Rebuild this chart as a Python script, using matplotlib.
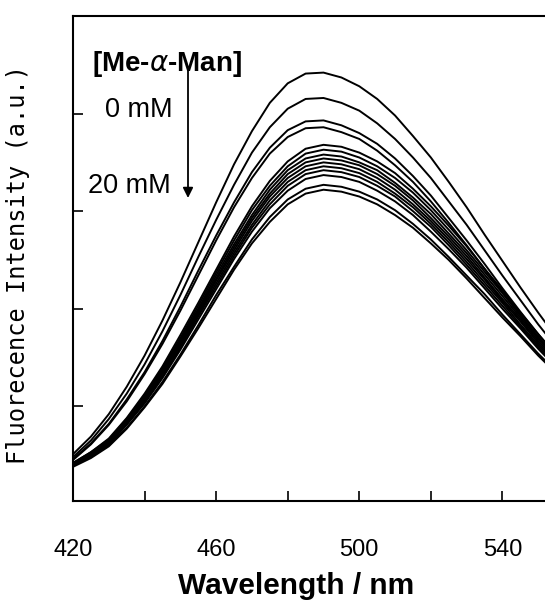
import matplotlib
matplotlib.use("Agg")
import matplotlib.pyplot as plt

# emission spectra, Me-alpha-Man titration (0 mM on top -> 20 mM at the bottom)
wl = [420, 425, 430, 435, 440, 445, 450, 455, 460, 465, 470, 475, 480, 485,
      490, 495, 500, 505, 510, 515, 520, 525, 530, 535, 540, 545, 550, 555]

s1 = [0.51, 0.69, 0.92, 1.20, 1.52, 1.88, 2.27, 2.68, 3.09, 3.48, 3.82, 4.11, 4.31, 4.41,
      4.42, 4.37, 4.28, 4.15, 3.98, 3.77, 3.55, 3.30, 3.04, 2.76, 2.49, 2.22, 1.96, 1.71]
s2 = [0.48, 0.65, 0.87, 1.13, 1.43, 1.77, 2.14, 2.53, 2.91, 3.27, 3.60, 3.86, 4.05, 4.15,
      4.16, 4.11, 4.03, 3.90, 3.74, 3.55, 3.34, 3.10, 2.86, 2.60, 2.34, 2.09, 1.84, 1.61]
s3 = [0.46, 0.62, 0.82, 1.07, 1.35, 1.67, 2.02, 2.39, 2.75, 3.09, 3.40, 3.65, 3.83, 3.92,
      3.93, 3.88, 3.80, 3.69, 3.54, 3.36, 3.16, 2.93, 2.70, 2.46, 2.21, 1.97, 1.74, 1.52]
s4 = [0.45, 0.61, 0.81, 1.05, 1.33, 1.64, 1.98, 2.34, 2.70, 3.04, 3.34, 3.59, 3.76, 3.85,
      3.86, 3.81, 3.74, 3.62, 3.47, 3.30, 3.10, 2.88, 2.65, 2.41, 2.17, 1.94, 1.71, 1.49]
s5 = [0.42, 0.53, 0.67, 0.88, 1.13, 1.41, 1.73, 2.06, 2.40, 2.74, 3.05, 3.31, 3.51, 3.64,
      3.68, 3.66, 3.60, 3.51, 3.39, 3.23, 3.05, 2.85, 2.64, 2.41, 2.19, 1.96, 1.74, 1.53]
s6 = [0.42, 0.53, 0.66, 0.87, 1.11, 1.39, 1.70, 2.03, 2.37, 2.70, 3.01, 3.26, 3.46, 3.59,
      3.63, 3.61, 3.55, 3.46, 3.34, 3.19, 3.01, 2.81, 2.60, 2.38, 2.16, 1.93, 1.71, 1.51]
s7 = [0.41, 0.52, 0.65, 0.86, 1.10, 1.37, 1.68, 2.00, 2.34, 2.66, 2.96, 3.22, 3.42, 3.54,
      3.58, 3.56, 3.50, 3.42, 3.29, 3.14, 2.97, 2.77, 2.57, 2.35, 2.13, 1.91, 1.69, 1.49]
s8 = [0.41, 0.51, 0.64, 0.85, 1.08, 1.36, 1.66, 1.98, 2.31, 2.63, 2.93, 3.18, 3.38, 3.50,
      3.54, 3.52, 3.47, 3.38, 3.26, 3.11, 2.93, 2.74, 2.54, 2.32, 2.10, 1.89, 1.67, 1.47]
s9 = [0.40, 0.51, 0.64, 0.84, 1.07, 1.34, 1.64, 1.96, 2.29, 2.60, 2.90, 3.15, 3.34, 3.46,
      3.50, 3.48, 3.43, 3.34, 3.22, 3.07, 2.90, 2.71, 2.51, 2.30, 2.08, 1.87, 1.65, 1.45]
s10 = [0.40, 0.50, 0.63, 0.83, 1.06, 1.33, 1.62, 1.94, 2.26, 2.57, 2.86, 3.11, 3.30, 3.42,
       3.46, 3.44, 3.39, 3.30, 3.18, 3.04, 2.87, 2.68, 2.48, 2.27, 2.06, 1.84, 1.63, 1.44]
s11 = [0.40, 0.50, 0.62, 0.82, 1.05, 1.31, 1.60, 1.92, 2.23, 2.54, 2.83, 3.07, 3.26, 3.38,
       3.42, 3.40, 3.35, 3.26, 3.15, 3.00, 2.84, 2.65, 2.45, 2.24, 2.03, 1.82, 1.61, 1.42]
s12 = [0.39, 0.49, 0.61, 0.81, 1.03, 1.29, 1.58, 1.89, 2.20, 2.51, 2.79, 3.03, 3.21, 3.33,
       3.37, 3.35, 3.30, 3.21, 3.10, 2.96, 2.79, 2.61, 2.42, 2.21, 2.00, 1.80, 1.59, 1.40]
s13 = [0.39, 0.48, 0.60, 0.78, 1.00, 1.25, 1.53, 1.83, 2.14, 2.43, 2.71, 2.94, 3.12, 3.23,
       3.27, 3.25, 3.20, 3.12, 3.01, 2.87, 2.71, 2.53, 2.34, 2.15, 1.94, 1.74, 1.54, 1.36]
s14 = [0.38, 0.47, 0.59, 0.77, 0.99, 1.23, 1.51, 1.80, 2.10, 2.40, 2.67, 2.89, 3.07, 3.18,
       3.22, 3.20, 3.15, 3.07, 2.96, 2.83, 2.67, 2.50, 2.31, 2.11, 1.91, 1.72, 1.52, 1.34]

spectra = [s1, s2, s3, s4, s5, s6, s7, s8, s9, s10, s11, s12, s13, s14]

xticks = [420, 440, 460, 480, 500, 520, 540, 560]
xticklabels = ["420", "", "460", "", "500", "", "540", ""]
yticks = [1, 2, 3, 4]

W, H = 545, 610
fig = plt.figure(figsize=(W / 100, H / 100), dpi=100)
# right end of the axis runs past the picture edge, like the scanned figure
ax = fig.add_axes([73 / W, 1 - 501 / H, 501 / W, 485 / H])

for s in spectra:
    ax.plot(wl, s, color="black", lw=1.4)

ax.set_xlim(420, 560)
ax.set_ylim(0.03, 5.0)
ax.set_xticks(xticks)
ax.set_xticklabels(xticklabels, fontsize=17, family="Liberation Sans")
ax.set_yticks(yticks)
ax.set_yticklabels([])
ax.tick_params(direction="in", length=7.5, width=1.2, pad=27)
for side in ["left", "top", "bottom", "right"]:
    ax.spines[side].set_linewidth(1.5)

fig.text(296 / W, 1 - 586 / H, "Wavelength / nm", ha="center", va="center",
         fontsize=21.5, fontweight="bold", family="Liberation Sans")
fig.text(18 / W, 1 - 265 / H, "Fluorecence Intensity (a.u.)", rotation=90,
         ha="center", va="center", fontsize=17, family="DejaVu Sans Mono")

fig.text(92 / W, 1 - 64 / H, r"[Me-$\alpha$-Man]", ha="left", va="center",
         fontsize=20, fontweight="bold", family="Liberation Sans")
fig.text(105 / W, 1 - 110 / H, "0 mM", ha="left", va="center",
         fontsize=19.5, family="Liberation Sans")
fig.text(88 / W, 1 - 186 / H, "20 mM", ha="left", va="center",
         fontsize=19.5, family="Liberation Sans")
ax.annotate("", xy=(188, H - 198), xycoords="figure pixels",
            xytext=(188, H - 68), textcoords="figure pixels",
            arrowprops=dict(arrowstyle="-|>", color="black", lw=1.3,
                            mutation_scale=15, shrinkA=0, shrinkB=0))

fig.savefig("out.png", dpi=100)
